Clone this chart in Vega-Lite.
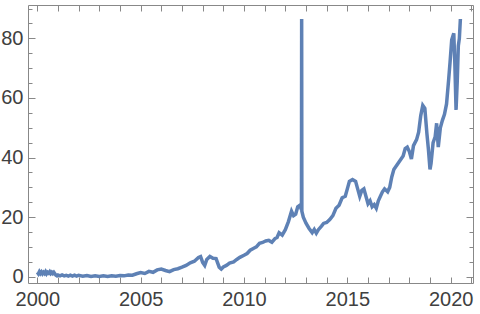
{
  "$schema": "https://vega.github.io/schema/vega-lite/v6.json",
  "width": 445,
  "height": 278,
  "autosize": {"type": "none"},
  "padding": {"left": 28, "top": 5, "right": 7, "bottom": 31},
  "config": {
    "view": {"stroke": "#888888", "strokeWidth": 1},
    "axis": {
      "domain": false, "grid": false,
      "labelFont": "Liberation Sans", "labelFontSize": 20, "labelColor": "#404040",
      "tickColor": "#888888", "tickWidth": 1
    }
  },
  "data": {"values": [
    {"t":2000.00,"v":1.5},{"t":2000.05,"v":1.0},{"t":2000.10,"v":1.7},{"t":2000.15,"v":1.1},{"t":2000.20,"v":1.6},
    {"t":2000.25,"v":1.0},{"t":2000.30,"v":1.5},{"t":2000.35,"v":1.1},{"t":2000.40,"v":1.7},{"t":2000.45,"v":1.0},
    {"t":2000.50,"v":1.5},{"t":2000.55,"v":1.2},{"t":2000.60,"v":1.7},{"t":2000.65,"v":1.1},{"t":2000.70,"v":1.5},
    {"t":2000.75,"v":1.1},{"t":2000.80,"v":1.5},{"t":2000.85,"v":1.0},{"t":2000.90,"v":0.5},{"t":2000.95,"v":0.3},
    {"t":2001.0,"v":0.6},{"t":2001.1,"v":0.3},{"t":2001.2,"v":0.6},{"t":2001.3,"v":0.3},{"t":2001.4,"v":0.5},
    {"t":2001.5,"v":0.2},{"t":2001.6,"v":0.5},{"t":2001.7,"v":0.2},{"t":2001.8,"v":0.5},{"t":2001.9,"v":0.2},
    {"t":2002.0,"v":0.5},{"t":2002.2,"v":0.2},{"t":2002.4,"v":0.4},{"t":2002.6,"v":0.1},{"t":2002.8,"v":0.3},
    {"t":2003.0,"v":0.1},{"t":2003.2,"v":0.3},{"t":2003.4,"v":0.1},{"t":2003.6,"v":0.3},{"t":2003.8,"v":0.2},
    {"t":2004.0,"v":0.4},{"t":2004.2,"v":0.3},{"t":2004.4,"v":0.6},{"t":2004.6,"v":0.5},{"t":2004.8,"v":1.0},
    {"t":2005.0,"v":1.4},{"t":2005.2,"v":1.1},{"t":2005.4,"v":1.8},{"t":2005.6,"v":1.5},{"t":2005.8,"v":2.3},
    {"t":2006.0,"v":2.6},{"t":2006.2,"v":2.1},{"t":2006.4,"v":1.7},{"t":2006.6,"v":2.4},{"t":2006.8,"v":2.7},
    {"t":2007.0,"v":3.2},{"t":2007.2,"v":3.8},{"t":2007.4,"v":4.7},{"t":2007.6,"v":5.2},{"t":2007.8,"v":6.5},
    {"t":2007.9,"v":6.8},{"t":2008.0,"v":4.8},{"t":2008.1,"v":3.8},{"t":2008.2,"v":5.8},{"t":2008.35,"v":6.8},
    {"t":2008.5,"v":6.2},{"t":2008.65,"v":6.1},{"t":2008.8,"v":3.2},{"t":2008.9,"v":2.6},{"t":2009.0,"v":3.3},
    {"t":2009.15,"v":3.8},{"t":2009.3,"v":4.6},{"t":2009.5,"v":5.0},{"t":2009.65,"v":5.8},{"t":2009.8,"v":6.5},
    {"t":2010.0,"v":7.2},{"t":2010.15,"v":7.8},{"t":2010.3,"v":8.9},{"t":2010.45,"v":9.5},{"t":2010.6,"v":10.0},
    {"t":2010.75,"v":11.2},{"t":2010.9,"v":11.5},{"t":2011.05,"v":12.0},{"t":2011.2,"v":12.2},{"t":2011.35,"v":11.6},
    {"t":2011.5,"v":12.8},{"t":2011.6,"v":13.2},{"t":2011.7,"v":14.8},{"t":2011.85,"v":14.0},{"t":2012.0,"v":15.8},
    {"t":2012.15,"v":18.5},{"t":2012.3,"v":22.0},{"t":2012.4,"v":20.5},{"t":2012.5,"v":21.0},{"t":2012.6,"v":23.5},
    {"t":2012.7,"v":24.0},{"t":2012.78,"v":22.5},{"t":2012.79,"v":86.5},{"t":2012.80,"v":22.0},{"t":2012.87,"v":20.0},
    {"t":2013.0,"v":18.0},{"t":2013.15,"v":16.2},{"t":2013.3,"v":14.8},{"t":2013.4,"v":15.9},{"t":2013.5,"v":14.6},
    {"t":2013.6,"v":15.8},{"t":2013.75,"v":17.0},{"t":2013.85,"v":17.9},{"t":2014.0,"v":18.2},{"t":2014.15,"v":19.2},
    {"t":2014.3,"v":20.5},{"t":2014.45,"v":23.0},{"t":2014.6,"v":24.0},{"t":2014.75,"v":26.5},{"t":2014.9,"v":27.0},
    {"t":2015.0,"v":29.5},{"t":2015.1,"v":32.0},{"t":2015.25,"v":32.6},{"t":2015.4,"v":32.0},{"t":2015.5,"v":29.5},
    {"t":2015.6,"v":27.0},{"t":2015.7,"v":29.0},{"t":2015.8,"v":29.5},{"t":2015.9,"v":27.0},{"t":2016.0,"v":24.5},
    {"t":2016.1,"v":25.5},{"t":2016.2,"v":23.5},{"t":2016.3,"v":24.2},{"t":2016.4,"v":23.0},{"t":2016.5,"v":25.5},
    {"t":2016.6,"v":27.0},{"t":2016.7,"v":28.5},{"t":2016.8,"v":29.5},{"t":2016.95,"v":28.5},{"t":2017.05,"v":30.0},
    {"t":2017.15,"v":33.5},{"t":2017.25,"v":36.0},{"t":2017.4,"v":37.5},{"t":2017.5,"v":38.5},{"t":2017.6,"v":39.5},
    {"t":2017.7,"v":40.5},{"t":2017.8,"v":43.0},{"t":2017.9,"v":43.5},{"t":2018.0,"v":42.0},{"t":2018.1,"v":39.5},
    {"t":2018.2,"v":44.0},{"t":2018.35,"v":46.0},{"t":2018.45,"v":48.5},{"t":2018.55,"v":54.0},{"t":2018.65,"v":57.5},
    {"t":2018.75,"v":56.5},{"t":2018.85,"v":48.0},{"t":2018.92,"v":43.0},{"t":2019.0,"v":36.0},{"t":2019.05,"v":38.0},
    {"t":2019.15,"v":45.0},{"t":2019.25,"v":47.0},{"t":2019.32,"v":51.5},{"t":2019.4,"v":43.5},{"t":2019.5,"v":50.0},
    {"t":2019.6,"v":52.5},{"t":2019.7,"v":54.5},{"t":2019.8,"v":58.0},{"t":2019.9,"v":66.0},{"t":2019.97,"v":72.0},
    {"t":2020.05,"v":79.5},{"t":2020.15,"v":81.7},{"t":2020.2,"v":72.0},{"t":2020.26,"v":56.0},{"t":2020.32,"v":66.0},
    {"t":2020.37,"v":77.5},{"t":2020.42,"v":80.0},{"t":2020.47,"v":86.5}
  ]},
  "layer": [
    {
      "mark": {"type": "line", "color": "#5E81B5", "strokeWidth": 3.5, "clip": true},
      "encoding": {
        "x": {"field": "t", "type": "quantitative", "title": null,
              "scale": {"domain": [1999.55, 2021.08], "nice": false, "zero": false},
              "axis": {"orient": "bottom", "values": [2000,2001,2002,2003,2004,2005,2006,2007,2008,2009,2010,2011,2012,2013,2014,2015,2016,2017,2018,2019,2020,2021],
                       "labelExpr": "datum.value % 5 === 0 ? format(datum.value, 'd') : ''",
                       "tickSize": -6, "labelPadding": 12, "labelFlush": false, "labelOverlap": false}},
        "y": {"field": "v", "type": "quantitative", "title": null,
              "scale": {"domain": [-2.1, 91.2], "nice": false, "zero": false},
              "axis": {"orient": "left", "values": [0,5,10,15,20,25,30,35,40,45,50,55,60,65,70,75,80,85,90],
                       "labelExpr": "datum.value % 20 === 0 ? format(datum.value, 'd') : ''",
                       "tickSize": {"condition": {"test": "datum.value % 20 === 0", "value": -7}, "value": -4},
                       "labelPadding": 12, "labelFlush": false, "labelOverlap": false}}
      }
    },
    {
      "mark": {"type": "line", "opacity": 0},
      "encoding": {
        "x": {"field": "t", "type": "quantitative",
              "axis": {"orient": "top", "values": [2000,2001,2002,2003,2004,2005,2006,2007,2008,2009,2010,2011,2012,2013,2014,2015,2016,2017,2018,2019,2020,2021],
                       "labels": false, "tickSize": -6, "title": null}},
        "y": {"field": "v", "type": "quantitative",
              "axis": {"orient": "right", "values": [0,5,10,15,20,25,30,35,40,45,50,55,60,65,70,75,80,85,90],
                       "labels": false, "title": null,
                       "tickSize": {"condition": {"test": "datum.value % 20 === 0", "value": -7}, "value": -4}}}
      }
    }
  ],
  "resolve": {"axis": {"x": "independent", "y": "independent"}}
}
